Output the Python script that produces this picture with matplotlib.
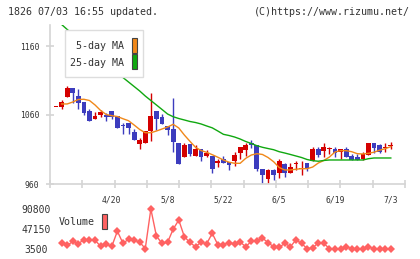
import matplotlib
matplotlib.use('Agg')
import matplotlib.pyplot as plt
from matplotlib.patches import Rectangle
import numpy as np

# ---- data (2020/04/06 .. 2020/07/03, 61 sessions) ----
opens = [1071, 1071.2, 1086.5, 1099.1, 1087.5, 1078.8, 1065.4, 1054.6, 1060.4, 1059.6,
         1066.2, 1058.6, 1045.9, 1048.8, 1035.4, 1018, 1019.9, 1037.2, 1065.4, 1057.5,
         1044.1, 1039.3, 1019.9, 999.6, 1018, 1000.6, 1010.3, 1000.6, 1000.6, 990,
         996.7, 991.9, 993.8, 1005.4, 1009.3, 1019, 1016.1, 981.3, 967.7, 980.3,
         975.5, 989, 976.4, 989, 981.3, 990, 993.8, 1010.3, 1008.3, 1010.3,
         1010.3, 1006.4, 1010.3, 1000.6, 998.7, 996.7, 1002.5, 1019.9, 1016.1, 1012.2,
         1015.1]
highs = [1071, 1081.7, 1102, 1099.1, 1097.2, 1078.8, 1068.3, 1064.3, 1067.2, 1062.5,
         1066.2, 1058.6, 1048.8, 1048.8, 1039.3, 1026.7, 1037.2, 1091.5, 1065.4, 1061.4,
         1044.1, 1084.6, 1019.9, 1019, 1018, 1016.1, 1010.3, 1009.3, 1000.6, 995.8,
         1000.6, 991.9, 1006.4, 1013.2, 1019.9, 1023.8, 1016.1, 981.3, 981.3, 981.3,
         995.8, 990.9, 990.9, 992.9, 992.9, 990, 1013.2, 1013.2, 1019, 1014.1,
         1014.1, 1010.3, 1013.2, 1003.5, 1003.5, 1006.4, 1019.9, 1019.9, 1018, 1019,
         1020.9]
lows = [1071, 1068.3, 1086.5, 1077.8, 1069.1, 1060.4, 1051.7, 1053.8, 1056.7, 1051.7,
        1054.6, 1041.2, 1032.5, 1032.5, 1023.8, 1011.2, 1019.9, 1022.8, 1038.3, 1047,
        1031.4, 1006.4, 989, 999.6, 1000.6, 1000.6, 993.8, 998.7, 976.4, 985.1,
        990, 980.3, 986.1, 996.7, 1000.6, 1012.2, 979.3, 961, 961, 965.8,
        968.7, 970.6, 976.4, 980.3, 973.5, 979.3, 993.8, 999.6, 999.6, 1003.5,
        999.6, 996.7, 998.7, 994.8, 994.8, 994.8, 1002.5, 1005.4, 1004.5, 1006.4,
        1010.3]
closes = [1071, 1078.8, 1099.1, 1091.4, 1077.8, 1062.5, 1051.7, 1058.6, 1064.3, 1057.5,
          1057.5, 1041.2, 1044.1, 1041.2, 1023.8, 1023.8, 1037.2, 1058.6, 1054.6, 1047,
          1038.3, 1020.9, 989, 1016.1, 1003.5, 1011.2, 999.6, 1004.5, 981.3, 992.9,
          990, 987.1, 1001.6, 1013.2, 1016.1, 1016.1, 981.3, 973.5, 980.3, 973.5,
          992.9, 975.5, 984.2, 990.9, 983.2, 983.2, 1010.3, 1002.5, 1013.2, 1011.2,
          1004.5, 1010.3, 999.6, 994.8, 994.8, 1003.5, 1019.9, 1012.2, 1006.4, 1013.2,
          1016.1]

ma5 = [np.nan, 1076, 1076, 1078.8, 1082.5, 1082.8, 1081, 1074.5, 1066.5, 1060.7,
       1059, 1057.8, 1054.6, 1051.7, 1045.5, 1039, 1034.3, 1034.3, 1036.8, 1039.7,
       1042.6, 1046.5, 1041.2, 1031, 1021.9, 1013.2, 1008.5, 1005.9, 1002.5, 998.8,
       994.8, 991.6, 990, 990, 997.2, 1002, 1003.9, 1002.8, 998.4, 992.3,
       983.9, 980.3, 980.3, 981.4, 982.2, 982.2, 984.6, 990.4, 994.1, 999.1,
       1006.4, 1008.3, 1008.3, 1006.8, 1003.9, 1003.5, 1004.5, 1006.1, 1009, 1011.2,
       1014.1]
ma25 = [1199.1, 1191.2, 1184, 1177.4, 1170.2, 1162.2, 1155.7, 1148.4, 1141.2, 1133.9,
        1127.4, 1120.9, 1114.3, 1107.8, 1101.3, 1094.8, 1087.5, 1081, 1074.5, 1068,
        1061.4, 1057.5, 1054.9, 1052.8, 1050.6, 1049.1, 1047, 1044.1, 1041.4, 1036.8,
        1032, 1030.3, 1028.1, 1025.2, 1021.6, 1018.7, 1015.5, 1013.2, 1011.4, 1009.7,
        1006.8, 1004.9, 1002.8, 1000.6, 998.4, 995.5, 993.8, 993, 994.1, 994.8,
        994.8, 994.8, 994.8, 994.8, 994.8, 994.8, 996.7, 997.7, 997.7, 997.7,
        997.7]

volume = [np.nan, 15940, 11140, 19870, 15070, 23800, 22490, 22490, 9390, 13980,
          9390, 42350, 15940, 24670, 23140, 18340, 4590, 90800, 31440, 15940,
          18340, 46710, 66790, 30350, 17690, 8520, 18340, 14850, 37770, 12880,
          13320, 17250, 14410, 18780, 8520, 20310, 20310, 27510, 17250, 8520,
          7210, 15940, 8520, 23140, 15940, 4150, 5680, 17250, 15940, 4150,
          3500, 4150, 8520, 4150, 3500, 4150, 8520, 3500, 4150, 4150,
          4150]

date_pos = [10, 20, 30, 40, 50, 60]
date_labels = ['4/20', '5/8', '5/22', '6/5', '6/19', '7/3']
price_ticks = [960, 1060, 1160]
vol_ticks = [3500, 47150, 90800]

# ---- layout (pixels) ----
W, H = 420, 259
x0, dx = 56, 5.58          # pixel of first candle, pixel step
red = '#d40000'
blue = '#3c3cbe'
orange = '#f0881a'
green = '#10a810'
volc = '#ff6262'
gray = '#d4d4d4'
txt = '#333333'
mono = 'DejaVu Sans Mono'

fig = plt.figure(figsize=(W / 100, H / 100), dpi=100)

def rect(l, t, r, b):
    return [l / W, (H - b) / H, (r - l) / W, (b - t) / H]

xl = ((50 - x0) / dx, (405 - x0) / dx)

# main candle chart
ax = fig.add_axes(rect(50, 25, 405, 184))
idx = np.arange(len(closes))
o = np.array(opens); c = np.array(closes)
cols = [red if cc >= oo else blue for oo, cc in zip(o, c)]
ax.vlines(idx, lows, highs, colors=cols, linewidth=1.0, zorder=2)
body_h = np.maximum(np.abs(c - o), 1.4)
ax.bar(idx, body_h, bottom=np.minimum(o, c), width=0.86, color=cols,
       linewidth=0, zorder=3)
ax.plot(idx, ma5, color=orange, linewidth=1.0, zorder=4)
ax.plot(idx, ma25, color=green, linewidth=1.0, zorder=4)

ax.set_xlim(*xl)
ax.set_ylim(960, 960 + 159 / 0.69)
for s in ['top', 'right']:
    ax.spines[s].set_visible(False)
for s in ['left', 'bottom']:
    ax.spines[s].set_color(gray)
    ax.spines[s].set_linewidth(1.2)
ax.set_yticks(price_ticks)
ax.set_yticklabels([str(v) for v in price_ticks], fontfamily=mono, fontsize=5.8, color=txt)
ax.tick_params(axis='y', direction='inout', length=6, width=1.2, color=gray, pad=4.5)
grid_px = np.linspace(50, 405, 12)
ax.set_xticks((grid_px - x0) / dx, minor=True)
ax.set_xticks(date_pos)
ax.set_xticklabels(date_labels, fontfamily=mono, fontsize=5.8, color=txt)
ax.tick_params(axis='x', which='major', length=0, pad=8)
ax.tick_params(axis='x', which='minor', direction='inout', length=6, width=1.2, color=gray)
ax.patch.set_alpha(0)

# volume panel
axv = fig.add_axes(rect(50, 200, 405, 255))
axv.plot(idx, volume, color=volc, linewidth=1.0, marker='D', markersize=3.6,
         markeredgewidth=0)
axv.set_xlim(*xl)
axv.set_ylim(3500 + (249 - 255) * 2182.5, 3500 + (249 - 200) * 2182.5)
for s in axv.spines.values():
    s.set_visible(False)
axv.set_xticks([])
axv.set_yticks(vol_ticks)
axv.set_yticklabels([str(v) for v in vol_ticks], fontfamily=mono, fontsize=7.0, color=txt)
for lab in axv.get_yticklabels():
    lab.set_horizontalalignment('center')
axv.tick_params(axis='y', length=0, pad=9.7)
axv.patch.set_alpha(0)

# overlay for legends and header
ov = fig.add_axes([0, 0, 1, 1])
ov.set_xlim(0, W)
ov.set_ylim(H, 0)
ov.axis('off')
ov.patch.set_alpha(0)

ov.text(8, 12, '1826 07/03 16:55 updated.', fontfamily=mono, fontsize=7.2,
        color=txt, va='center', ha='left')
ov.text(410, 12, '(C)https://www.rizumu.net/', fontfamily=mono, fontsize=7.2,
        color=txt, va='center', ha='right')

ov.add_patch(Rectangle((65, 30), 78, 47, facecolor='white', edgecolor='#dddddd',
                       linewidth=1.0, zorder=5))
ov.text(124, 46, '5-day MA', fontfamily=mono, fontsize=7.2, color=txt,
        ha='right', va='center', zorder=6)
ov.text(124, 62.5, '25-day MA', fontfamily=mono, fontsize=7.2, color=txt,
        ha='right', va='center', zorder=6)
ov.add_patch(Rectangle((131.5, 37.5), 5.5, 15, facecolor=orange, edgecolor='#444444',
                       linewidth=0.8, zorder=6))
ov.add_patch(Rectangle((131.5, 54), 5.5, 15, facecolor=green, edgecolor='#444444',
                       linewidth=0.8, zorder=6))

ov.text(59, 222, 'Volume', fontfamily=mono, fontsize=7.2, color=txt,
        ha='left', va='center')
ov.add_patch(Rectangle((101.5, 213.5), 5.5, 15, facecolor=volc, edgecolor='#444444',
                       linewidth=0.8))

fig.savefig('out.png', dpi=100)
